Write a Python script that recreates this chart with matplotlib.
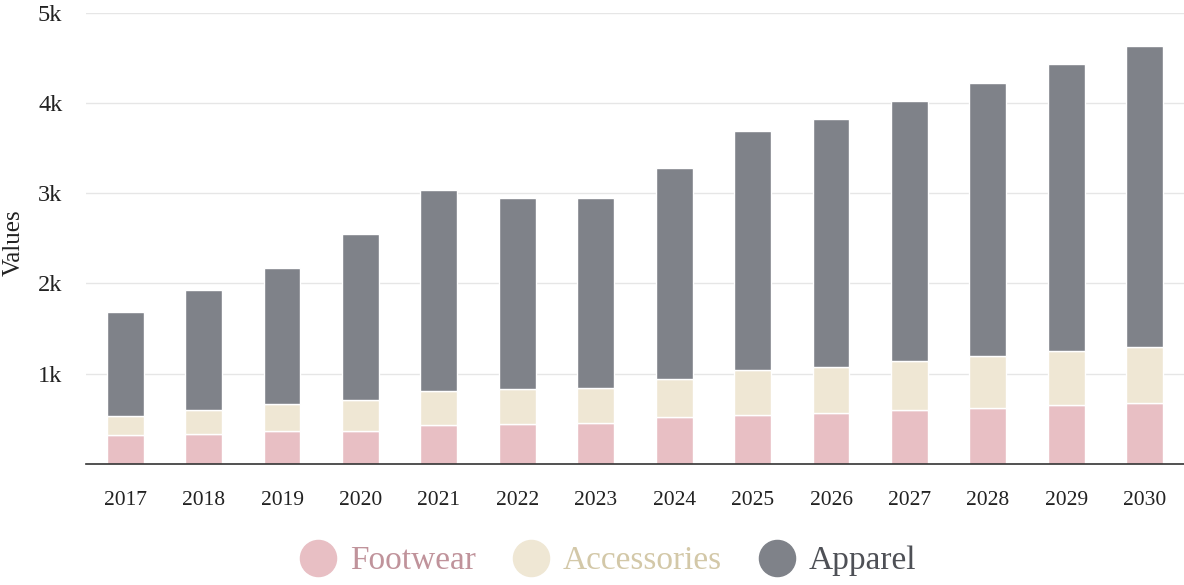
import numpy as np
import matplotlib.pyplot as plt
from matplotlib.lines import Line2D

# category sales by year (stacked)
years = ['2017', '2018', '2019', '2020', '2021', '2022', '2023',
         '2024', '2025', '2026', '2027', '2028', '2029', '2030']
footwear = [320, 330, 365, 360, 425, 445, 455, 515, 545, 565, 600, 620, 655, 670]
accessories = [210, 265, 300, 345, 385, 385, 390, 420, 495, 510, 535, 570, 590, 620]
apparel = [1150, 1335, 1505, 1840, 2230, 2120, 2100, 2340, 2655, 2750, 2890, 3030, 3185, 3345]

c_foot, c_acc, c_app = '#E8BFC4', '#EFE7D4', '#7F8289'
t_foot, t_acc, t_app = '#C0939B', '#D3C8A8', '#4E5056'

plt.rcParams['font.family'] = ['Liberation Serif', 'DejaVu Serif']

fig = plt.figure(figsize=(11.84, 5.85), dpi=100)
ax = fig.add_axes([0.0726, 0.2074, 0.9274, 0.7704])

x = np.arange(len(years))
w = 0.47
foot = np.array(footwear)
acc = np.array(accessories)
app = np.array(apparel)

ax.bar(x, foot, w, color=c_foot, edgecolor='white', linewidth=1, zorder=3)
ax.bar(x, acc, w, bottom=foot, color=c_acc, edgecolor='white', linewidth=1, zorder=3)
ax.bar(x, app, w, bottom=foot + acc, color=c_app, edgecolor='white', linewidth=1, zorder=3)

ax.set_xlim(-0.5, len(years) - 0.5)
ax.set_ylim(0, 5000)
ax.set_yticks([1000, 2000, 3000, 4000, 5000])
ax.set_yticklabels(['1k', '2k', '3k', '4k', '5k'])
ax.set_xticks(x)
ax.set_xticklabels(years)
ax.tick_params(axis='both', length=0, colors='#222222')
ax.tick_params(axis='x', pad=20, labelsize=15.5)
ax.tick_params(axis='y', pad=17, labelsize=17.5)

ax.grid(axis='y', color='#E6E6E6', linewidth=1, zorder=0)
for s in ['top', 'right', 'left']:
    ax.spines[s].set_visible(False)
ax.spines['bottom'].set_color('#333333')
ax.spines['bottom'].set_linewidth(1.2)
ax.spines['bottom'].set_zorder(4)

ax.set_ylabel('Values', fontsize=18, color='#222222')
ax.yaxis.set_label_coords(-0.056, 0.49)

handles = [Line2D([], [], marker='o', linestyle='none', markersize=26,
                  markerfacecolor=c, markeredgecolor=c) for c in (c_foot, c_acc, c_app)]
leg = fig.legend(handles, ['Footwear', 'Accessories', 'Apparel'], loc='center',
                 bbox_to_anchor=(0.514, 0.041), ncol=3, frameon=False, fontsize=24,
                 handlelength=1.0, handletextpad=0.46, columnspacing=1.15)
for txt, c in zip(leg.get_texts(), (t_foot, t_acc, t_app)):
    txt.set_color(c)

fig.savefig('out.png', dpi=100)
